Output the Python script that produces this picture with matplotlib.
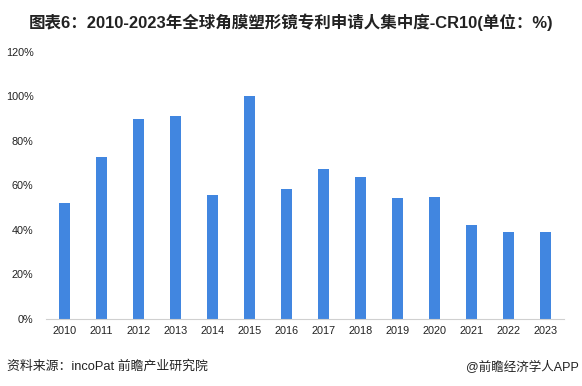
import matplotlib
matplotlib.use('Agg')
import matplotlib.pyplot as plt
from matplotlib.ticker import FuncFormatter

plt.rcParams['font.family'] = ['Liberation Sans', 'Noto Sans CJK SC', 'DejaVu Sans']

years = ['2010', '2011', '2012', '2013', '2014', '2015', '2016',
         '2017', '2018', '2019', '2020', '2021', '2022', '2023']
cr10 = [52.1, 72.8, 89.8, 91.2, 55.7, 100.0, 58.4,
        67.4, 63.8, 54.4, 54.8, 42.3, 39.1, 39.1]

fig = plt.figure(figsize=(5.82, 3.86), dpi=100)
ax = fig.add_axes([0.079, 0.1736, 0.89, 0.6925])

x = range(len(years))
ax.bar(x, cr10, width=0.3, color='#4186E0')

ax.set_xlim(-0.5, len(years) - 0.5)
ax.set_ylim(0, 120)
ax.set_yticks(range(0, 121, 20))
ax.yaxis.set_major_formatter(FuncFormatter(lambda v, p: '%d%%' % v))
ax.set_xticks(list(x))
ax.set_xticklabels(years)

for s in ['top', 'right', 'left']:
    ax.spines[s].set_visible(False)
ax.spines['bottom'].set_color('#d0d0d0')
ax.tick_params(axis='both', length=0, labelsize=7.8, colors='#222222')
ax.tick_params(axis='x', pad=5)
ax.tick_params(axis='y', pad=9)

fig.text(0.5, 0.943, '图表6：2010-2023年全球角膜塑形镜专利申请人集中度-CR10(单位：%)',
         ha='center', va='center', fontsize=11.9, fontweight='bold', color='#222222')
fig.text(0.012, 0.05, '资料来源：incoPat 前瞻产业研究院', ha='left', va='center',
         fontsize=9.3, color='#222222')
fig.text(0.995, 0.05, '@前瞻经济学人APP', ha='right', va='center',
         fontsize=9, color='#222222')

fig.savefig('out.png', dpi=100)
